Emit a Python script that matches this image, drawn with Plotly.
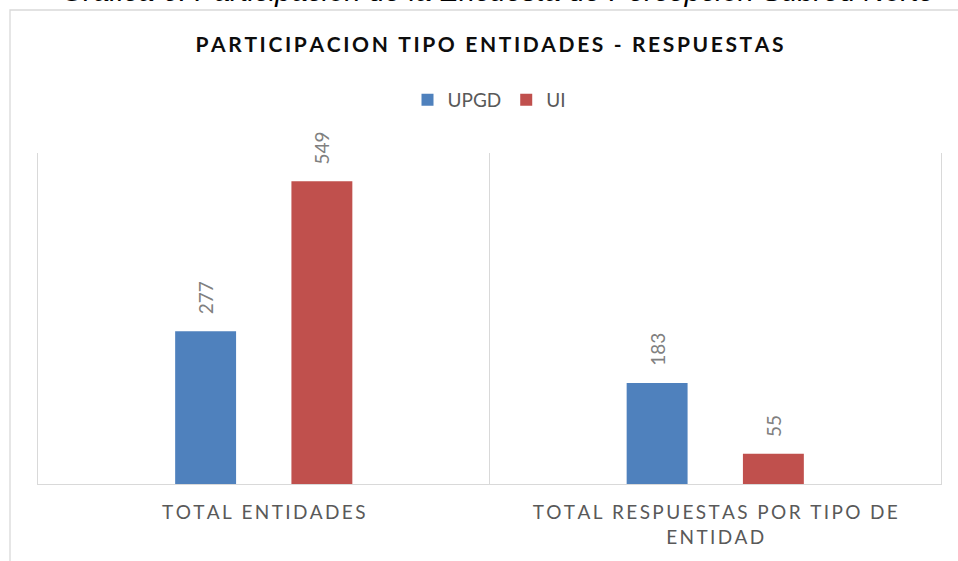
import plotly.graph_objects as go

categories = ["TOTAL ENTIDADES", "TOTAL RESPUESTAS POR TIPO DE ENTIDAD"]
tick_labels = ["TOTAL ENTIDADES", "TOTAL RESPUESTAS POR TIPO DE<br>ENTIDAD"]
series_names = ["UPGD", "UI"]
upgd_values = [277, 183]
ui_values = [549, 55]
title_text = "PARTICIPACION TIPO ENTIDADES - RESPUESTAS"
caption_text = "Gráfica 6. Participación de la Encuesta de Percepción Subred Norte"

SP = "\u2009"


def spaced(s):
    parts = s.split("<br>")
    return "<br>".join(SP.join(list(p)) for p in parts)


W, H = 958, 561
ML, MR, MT, MB = 38, 17, 153, 77
plot_w = W - ML - MR
plot_h = H - MT - MB
BARGAP = 0.485
GROUPGAP = 0.476
cat_px = plot_w / len(categories)
slot_px = (1 - BARGAP) * cat_px / 2

colors = ["#4F81BD", "#C0504D"]
fig = go.Figure()
for name, vals, col in zip(series_names, [upgd_values, ui_values], colors):
    fig.add_trace(go.Bar(name=name, x=categories, y=vals, marker=dict(color=col, line=dict(width=0))))

font_main = "Lato, 'Open Sans', sans-serif"

annotations = []
for k, vals in enumerate([upgd_values, ui_values]):
    shift = (k - 0.5) * slot_px
    for c, v in zip(categories, vals):
        annotations.append(dict(x=c, y=v, xref="x", yref="y", text=str(v), showarrow=False,
                                textangle=-90, yanchor="bottom", xanchor="center",
                                xshift=shift, yshift=15,
                                font=dict(family=font_main, size=19, color="#808080")))

annotations.append(dict(x=(498 - ML) / plot_w, y=(H - MB - 9) / plot_h, xref="paper", yref="paper",
                        text=caption_text, showarrow=False, xanchor="center", yanchor="bottom",
                        font=dict(family="'Liberation Sans', Arial, sans-serif", size=29, color="#000000",
                                  style="italic")))

fig.update_layout(
    width=W, height=H,
    margin=dict(l=ML, r=MR, t=MT, b=MB),
    paper_bgcolor="white", plot_bgcolor="white",
    barmode="group", bargap=BARGAP, bargroupgap=GROUPGAP,
    title=dict(text="<b>" + spaced(title_text) + "</b>", x=0.5, xref="paper", xanchor="center",
               y=1 - 45 / H, yref="container", yanchor="middle",
               font=dict(family=font_main, size=21, color="#0D0D0D")),
    legend=dict(orientation="h", x=0.5, xanchor="center", y=(H - MB - 100) / plot_h, yanchor="middle",
                font=dict(family=font_main, size=19, color="#595959"), itemwidth=30,
                bgcolor="rgba(0,0,0,0)"),
    xaxis=dict(type="category", tickmode="array", tickvals=categories,
               ticktext=[spaced(t) for t in tick_labels],
               tickson="boundaries", ticks="", showgrid=True, gridcolor="#D9D9D9", gridwidth=1,
               showline=True, linecolor="#D9D9D9", linewidth=1, ticklabelstandoff=11,
               tickfont=dict(family=font_main, size=19, color="#595959"),
               range=[-0.5, 1.5]),
    yaxis=dict(range=[0, 600], showticklabels=False, showgrid=False, zeroline=False,
               showline=True, mirror=True, linecolor="#D9D9D9", linewidth=1),
    annotations=annotations,
    shapes=[dict(type="rect", xref="paper", yref="paper",
                 x0=(10 - ML) / plot_w, x1=(W + 10 - ML) / plot_w,
                 y0=(H - MB - (H + 10)) / plot_h, y1=(H - MB - 10) / plot_h,
                 line=dict(color="#D9D9D9", width=1.3), layer="below")],
)

fig.write_html("out.html", config={"displayModeBar": False},
               post_script="document.body.style.margin='0';document.body.style.padding='0';")
